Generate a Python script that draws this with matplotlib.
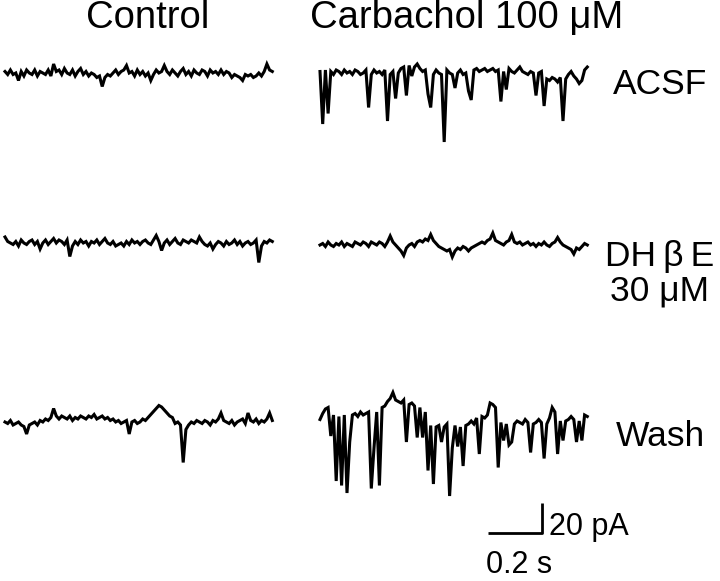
import matplotlib.pyplot as plt
import numpy as np

plt.rcParams['font.family'] = ['Liberation Sans', 'DejaVu Sans']

# sampling of every sweep: 100 points, 10 ms apart (1 s sweeps)
dt = 0.01

control_acsf = [1, -1, 2, -1, 0, -5, 1, -2, 2, 0,
                -1, 2, -2, 1, 0, -1, 2, -2, 6, 1,
                2, -1, 3, 0, -1, 2, -2, 1, 3, -1,
                1, -2, 0, -1, -3, -2, -9, -3, -1, -2,
                0, 2, -1, 1, 2, 5, 0, 1, -2, 2,
                -1, 1, -2, 0, -5, -1, 2, 0, 1, 5,
                1, -1, 2, 0, -2, 1, 3, -1, 1, -2,
                2, 0, -1, 2, 1, -2, 2, 0, 1, -1,
                2, -1, 1, 0, -3, -1, -2, -3, -5, -1,
                -2, -1, -3, -2, 0, -2, 1, 6, 2, 1]
carb_acsf = [1, -1, 2, 0, 1, -1, 2, 1, -1, 2,
             0, 1, -1, 2, 1, -1, 0, 2, 1, -1,
             2, 0, 1, -1, 2, 0, -1, 1, 2, 0,
             3, 4, 2, 5, 7, 4, 6, 3, 1, 2,
             0, 1, -1, 2, 0, -1, 1, 2, 0, -1,
             1, 0, 2, -1, 0, 1, -1, 2, 3, 1,
             2, 3, 1, 2, 3, 1, 2, 0, 1, 2,
             3, 1, 0, 2, 4, 1, 0, -1, 1, 0,
             2, 0, 1, -2, -4, -5, -3, -4, -6, -3,
             -2, -4, -1, 1, -2, -4, -7, -5, 2, 4]
control_dhbe = [4, 1, 0, -1, 1, -2, 2, 0, -1, 1,
                2, -1, 1, -4, 0, 2, -1, 1, 3, 0,
                2, 1, -1, 2, -9, -2, 1, -1, 2, 0,
                1, -2, 1, 0, 2, -1, 1, 3, 0, -1,
                1, -2, -1, 0, -2, 1, -1, 2, 0, 1,
                -1, 1, 2, 0, -1, 2, 5, 1, -5, 0,
                2, -1, 1, 3, 0, -1, 2, 1, 0, 2,
                1, 0, 4, 1, -1, -2, 0, -4, -1, 1,
                0, -2, 1, -1, 0, 2, -1, 1, -2, 0,
                1, -1, 0, 2, -13, -2, 1, 0, 2, 1]
carb_dhbe = [0, 1, -1, 2, 0, -1, 1, 0, 2, -1,
             1, 0, -1, 2, 1, 0, 2, 1, -1, 2,
             1, 0, 2, 1, -1, 2, 6, 2, 0, -2,
             -4, -7, -2, 0, 1, -1, 2, 3, 2, 4,
             3, 7, 3, 1, -1, -2, -3, -4, -3, -8,
             -4, -2, -3, -1, -2, -4, -2, -1, 0, 1,
             2, 1, 3, 4, 8, 3, 2, 1, 0, 2,
             3, 7, 2, 1, 2, 0, 1, 2, 0, 1,
             -1, 1, 0, 2, 0, -1, 1, 2, 5, 2,
             0, -1, -2, -3, -6, -2, -3, -1, 1, 0]
control_wash = [0, -1, 1, -2, -1, 0, -2, -3, -8, -2,
                -1, 0, -2, 1, 0, 2, 1, 3, 9, 4,
                2, 4, 3, 2, 4, 1, 3, 2, 4, 3,
                2, 4, 3, 5, 2, 3, 4, 2, 3, 1,
                2, 0, 1, -1, 0, 1, -8, 0, 1, -1,
                0, 2, 1, 3, 5, 7, 9, 11, 10, 8,
                6, 4, 3, -1, 0, -2, -27, -5, -2, 0,
                -1, 1, 0, -1, 1, 0, -2, 1, 0, 2,
                6, 1, 0, -1, 1, -2, 0, 1, 2, -1,
                6, 1, 0, 2, -1, 1, 0, 2, 6, 1]
carb_wash = [-3, 1, 4, 5, 2, 0, 1, -1, 2, 0,
             1, 2, 0, 1, -1, 2, 0, 1, 2, 0,
             3, 2, 4, 5, 6, 9, 11, 15, 10, 9,
             8, 10, 9, 7, 8, 6, 7, 5, 6, 2,
             -4, -7, -6, -8, -7, -5, -8, -6, -7, -5,
             -7, -6, -8, -5, -7, -6, -4, -6, -2, -3,
             -1, -2, 0, 8, 7, 5, -2, -5, -4, -6,
             -5, -3, -6, -4, -5, -6, -3, -5, -4, -6,
             -5, -3, -5, -4, -6, -2, 5, 2, -3, -4,
             -2, -4, -3, -1, -3, -2, -4, -1, 0, -1]

# inward synaptic currents: onset time (s) and amplitude (pA)
carb_acsf_t = [0.01, 0.03, 0.18, 0.25, 0.28, 0.32, 0.34, 0.40, 0.41,
               0.46, 0.50, 0.55, 0.56, 0.67, 0.69, 0.80, 0.83, 0.90]
carb_acsf_amp = [33, 27, 24, 32, 19, 17, 9, 14, 24,
                 47, 11, 13, 17, 19, 13, 17, 20, 30]
carb_wash_t = [0.04, 0.06, 0.08, 0.10, 0.11, 0.19, 0.20, 0.22, 0.32, 0.36,
               0.38, 0.40, 0.42, 0.45, 0.48, 0.49, 0.51, 0.53, 0.59, 0.66,
               0.68, 0.70, 0.71, 0.78, 0.83, 0.88, 0.90, 0.95, 0.97]
carb_wash_amp = [16, 45, 49, 53, 20, 49, 25, 51, 27, 22,
                 21, 33, 40, 13, 47, 17, 15, 29, 23, 33,
                 13, 15, 15, 21, 25, 23, 15, 16, 16]

col_titles = ['Control', 'Carbachol 100 \u03bcM']
row_labels = ['ACSF', 'DH\u2009\u03b2\u2009E\n30 \u03bcM', 'Wash']
scale_t, scale_i = 0.2, 20

# layout in figure pixels
W, H = 720, 581
PX_S, PX_PA = 270, 1.5
fig = plt.figure(figsize=(W / 100, H / 100), dpi=100)


def trace_axes(left, base, t0, t1, i0, i1):
    w = (t1 - t0) * PX_S
    h = (i1 - i0) * PX_PA
    top = base - i1 * PX_PA
    ax = fig.add_axes([left / W, 1 - (top + h) / H, w / W, h / H])
    ax.set_xlim(t0, t1)
    ax.set_ylim(i0, i1)
    ax.axis('off')
    return ax


def sweep(values, ev_t=(), ev_amp=()):
    y = np.array(values, dtype=float)
    for t, a in zip(ev_t, ev_amp):
        y[int(round(t / dt))] -= a
    return np.arange(len(y)) * dt, y


panels = [
    (5, 73, sweep(control_acsf)),
    (320, 73, sweep(carb_acsf, carb_acsf_t, carb_acsf_amp)),
    (5, 243, sweep(control_dhbe)),
    (320, 245, sweep(carb_dhbe)),
    (5, 422, sweep(control_wash)),
    (320, 415, sweep(carb_wash, carb_wash_t, carb_wash_amp)),
]
for left, base, (t, y) in panels:
    ax = trace_axes(left, base, 0, 1.0, -60, 25)
    ax.plot(t, y, color='black', lw=2.2, solid_joinstyle='miter', clip_on=False)

# scale bar
ax = trace_axes(488, 533, 0, 0.25, -5, 25)
ax.plot([0, scale_t, scale_t], [0, 0, scale_i], color='black', lw=2.0,
        solid_capstyle='butt', clip_on=False)

fig.text(148 / W, 1 - 18 / H, col_titles[0], ha='center', va='center', fontsize=27.5)
fig.text(467 / W, 1 - 18 / H, col_titles[1], ha='center', va='center', fontsize=27.5)
fig.text(660 / W, 1 - 85 / H, row_labels[0], ha='center', va='center', fontsize=25.5)
fig.text(660 / W, 1 - 274 / H, row_labels[1], ha='center', va='center', fontsize=25.5,
         linespacing=1.05)
fig.text(660 / W, 1 - 437 / H, row_labels[2], ha='center', va='center', fontsize=25.5)
fig.text(549 / W, 1 - 535 / H, f'{scale_i} pA', ha='left', va='baseline', fontsize=22)
fig.text(486 / W, 1 - 573 / H, f'{scale_t} s', ha='left', va='baseline', fontsize=22)

fig.savefig('out.png', dpi=100, facecolor='white')
